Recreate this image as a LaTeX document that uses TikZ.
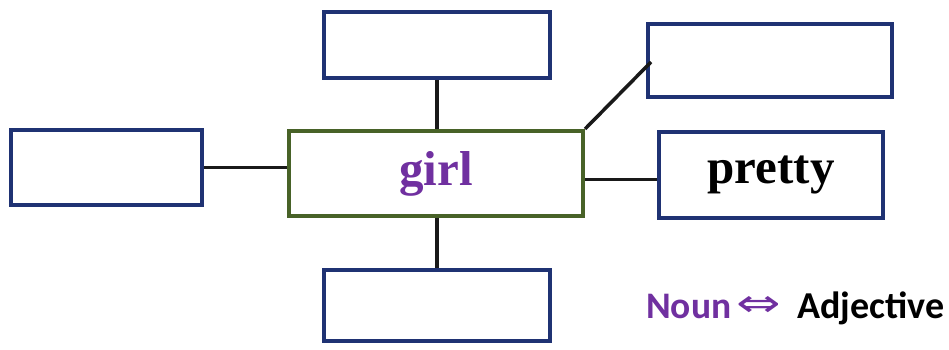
\documentclass[tikz,border=0pt]{standalone}
\usepackage{fontspec}
\setmainfont{Liberation Serif}
\newfontfamily\calib{Carlito}
\newfontfamily\djv{DejaVu Sans}
\definecolor{navy}{RGB}{31,50,115}
\definecolor{olive}{RGB}{72,98,40}
\definecolor{purp}{RGB}{112,48,160}
\tikzset{
  bluebox/.style={draw=navy, line width=4pt, fill=white, rectangle, inner sep=0pt},
  greenbox/.style={draw=olive, line width=4pt, fill=white, rectangle, inner sep=0pt},
  link/.style={draw=black!90, line width=3.5pt},
  word/.style={font=\bfseries\fontsize{49}{51}\selectfont}
}
\begin{document}
\begin{tikzpicture}[x=1pt,y=-1pt]
\useasboundingbox (0,0) rectangle (949,350);
\node[bluebox, minimum width=226pt, minimum height=66pt] (t) at (437,45) {};
\node[bluebox, minimum width=244pt, minimum height=73pt] (tr) at (770,60.5) {};
\node[bluebox, minimum width=191pt, minimum height=75pt] (l) at (106.5,167.5) {};
\node[greenbox, minimum width=294pt, minimum height=85pt, word, text=purp] (c) at (436,173.5) {girl};
\node[bluebox, minimum width=224pt, minimum height=86pt, word] (p) at (771,175) {pretty};
\node[bluebox, minimum width=226pt, minimum height=71pt] (b) at (437,305.5) {};
\draw[link] (t.south) -- (t.south |- c.north);
\draw[link] (l.east) -- (l.east -| c.west);
\draw[link] ([yshift=-6pt]c.east) -- ([yshift=-6pt]c.east -| p.west);
\draw[link] (b.north) -- (b.north |- c.south);
\draw[link] (c.north east) -- ([xshift=5pt,yshift=-1.5pt]tr.west);
\node[anchor=base west, inner sep=0pt, text=purp, font=\calib\bfseries\fontsize{37.5}{40}\selectfont] (n) at (646,318) {Noun};
\node[inner sep=0pt, text=purp, font=\djv\fontsize{38}{40}\selectfont] (arr) at (759,306) {\scalebox{1.4}[1]{⇔}};
\node[anchor=base west, inner sep=0pt, text=black, font=\calib\bfseries\fontsize{38}{40}\selectfont] (a) at (797,318) {Adjective};
\end{tikzpicture}
\end{document}
